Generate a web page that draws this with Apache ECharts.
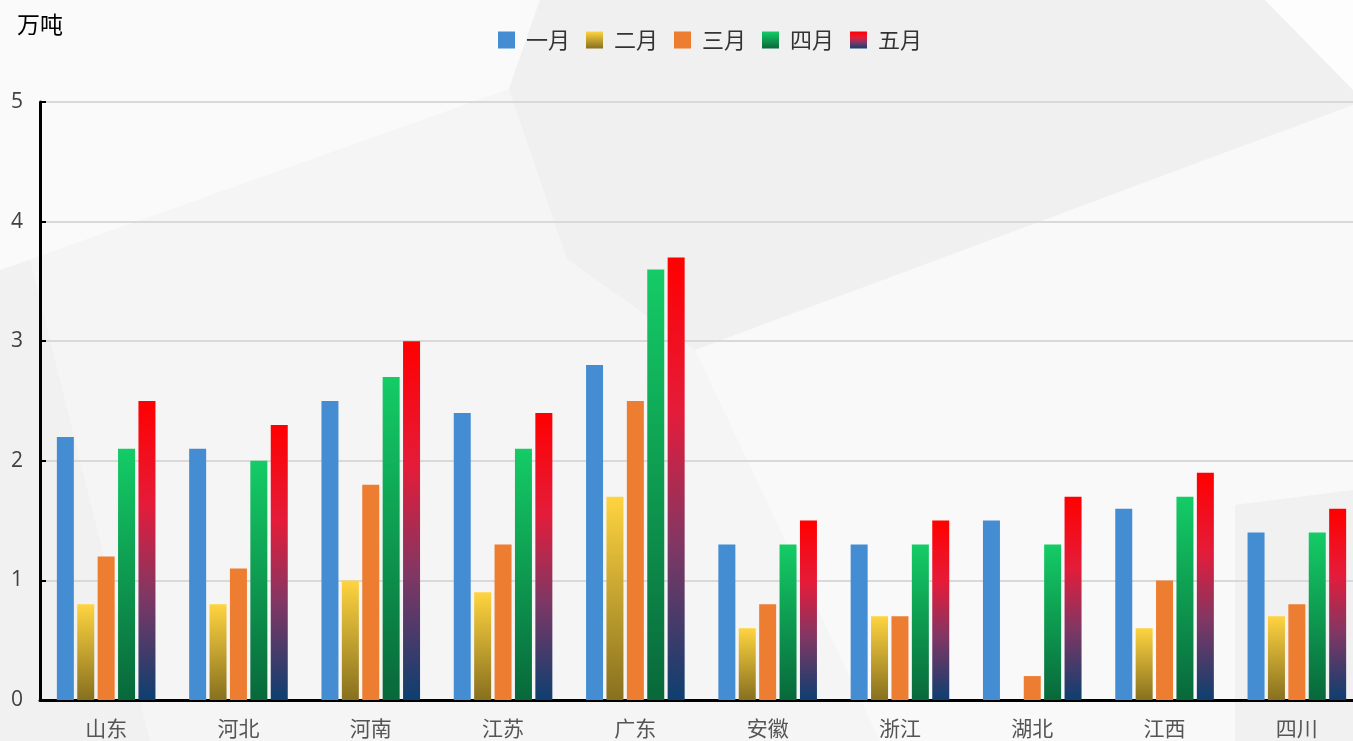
<!DOCTYPE html>
<html style="height: 100%">
<head>
    <meta charset="UTF-8">
    <script src="https://cdn.jsdelivr.net/npm/echarts@6/dist/echarts.min.js"></script>
</head>
<body style="height: 100%; margin: 0">
    <div id="main" style="width: 1353px; height: 741px;"></div>
    <script type="text/javascript">
        // 数据
        var provinces = ['山东', '河北', '河南', '江苏', '广东', '安徽', '浙江', '湖北', '江西', '四川'];
        var months = ['一月', '二月', '三月', '四月', '五月'];
        var jan = [2.2, 2.1, 2.5, 2.4, 2.8, 1.3, 1.3, 1.5, 1.6, 1.4];
        var feb = [0.8, 0.8, 1.0, 0.9, 1.7, 0.6, 0.7, null, 0.6, 0.7];
        var mar = [1.2, 1.1, 1.8, 1.3, 2.5, 0.8, 0.7, 0.2, 1.0, 0.8];
        var apr = [2.1, 2.0, 2.7, 2.1, 3.6, 1.3, 1.3, 1.3, 1.7, 1.4];
        var may = [2.5, 2.3, 3.0, 2.4, 3.7, 1.5, 1.5, 1.7, 1.9, 1.6];

        var myChart = echarts.init(document.getElementById('main'));

        function grad(stops) {
            return new echarts.graphic.LinearGradient(0, 0, 0, 1, stops.map(function (c) {
                return { offset: c[0], color: c[1] };
            }));
        }

        var colors = [
            '#458dd3',
            grad([[0, '#ffd440'], [1, '#87701f']]),
            '#ed7d31',
            grad([[0, '#14cc66'], [1, '#08683a']]),
            grad([[0, '#ff0000'], [0.35, '#e41c3a'], [0.65, '#803764'], [1, '#0d3f70']])
        ];

        var values = [jan, feb, mar, apr, may];

        var series = months.map(function (m, i) {
            return {
                name: m,
                type: 'bar',
                data: values[i],
                barWidth: 17,
                barGap: '20%',
                itemStyle: { color: colors[i] }
            };
        });

        var option = {
            animation: false,
            backgroundColor: '#f5f5f5',
            graphic: [
                // 背景几何色块
                { type: 'polygon', silent: true, z: -10, shape: { points: [[0, 0], [540, 0], [509, 89], [0, 270]] }, style: { fill: '#fafafa' } },
                { type: 'polygon', silent: true, z: -10, shape: { points: [[540, 0], [1265, 0], [1353, 90], [1353, 105], [695, 350], [567, 259], [509, 89]] }, style: { fill: '#f0f0f0' } },
                { type: 'polygon', silent: true, z: -10, shape: { points: [[1265, 0], [1353, 0], [1353, 90]] }, style: { fill: '#fdfdfd' } },
                { type: 'polygon', silent: true, z: -10, shape: { points: [[695, 350], [1353, 105], [1353, 490], [1235, 505], [1235, 741], [880, 741]] }, style: { fill: '#f9f9f9' } },
                { type: 'polygon', silent: true, z: -10, shape: { points: [[1235, 505], [1353, 490], [1353, 741], [1235, 741]] }, style: { fill: '#f1f1f1' } },
                { type: 'polygon', silent: true, z: -10, shape: { points: [[0, 270], [30, 260], [150, 741], [0, 741]] }, style: { fill: '#f1f1f1' } }
            ],
            legend: {
                data: months,
                left: 493,
                top: 24,
                icon: 'rect',
                itemWidth: 17,
                itemHeight: 17,
                itemGap: 16,
                textStyle: {
                    fontSize: 22,
                    color: '#333',
                    fontFamily: 'Noto Sans CJK SC',
                    padding: [0, 0, 0, 6]
                }
            },
            grid: {
                left: 40,
                top: 102,
                right: -10,
                bottom: 41,
                containLabel: false,
                outerBoundsMode: 'none'
            },
            xAxis: {
                type: 'category',
                data: provinces,
                axisLine: { lineStyle: { color: '#000', width: 3 } },
                axisTick: { length: 7, lineStyle: { color: '#000', width: 2 } },
                axisLabel: {
                    fontSize: 21,
                    color: '#555',
                    margin: 18,
                    fontFamily: 'Noto Sans CJK SC'
                }
            },
            yAxis: {
                type: 'value',
                min: 0,
                max: 5,
                interval: 1,
                name: '万吨',
                nameLocation: 'end',
                nameGap: 66,
                nameTextStyle: {
                    fontSize: 23,
                    color: '#000',
                    fontFamily: 'Noto Sans CJK SC',
                    align: 'center'
                },
                axisLine: { show: true, lineStyle: { color: '#000', width: 3 } },
                axisTick: { show: true, inside: true, length: 6, lineStyle: { color: '#000', width: 2 } },
                axisLabel: {
                    fontSize: 21,
                    color: '#404040',
                    margin: 17,
                    fontFamily: 'Open Sans'
                },
                splitLine: { lineStyle: { color: '#d9d9d9', width: 2 } }
            },
            series: series
        };

        myChart.setOption(option);
    </script>
</body>
</html>
